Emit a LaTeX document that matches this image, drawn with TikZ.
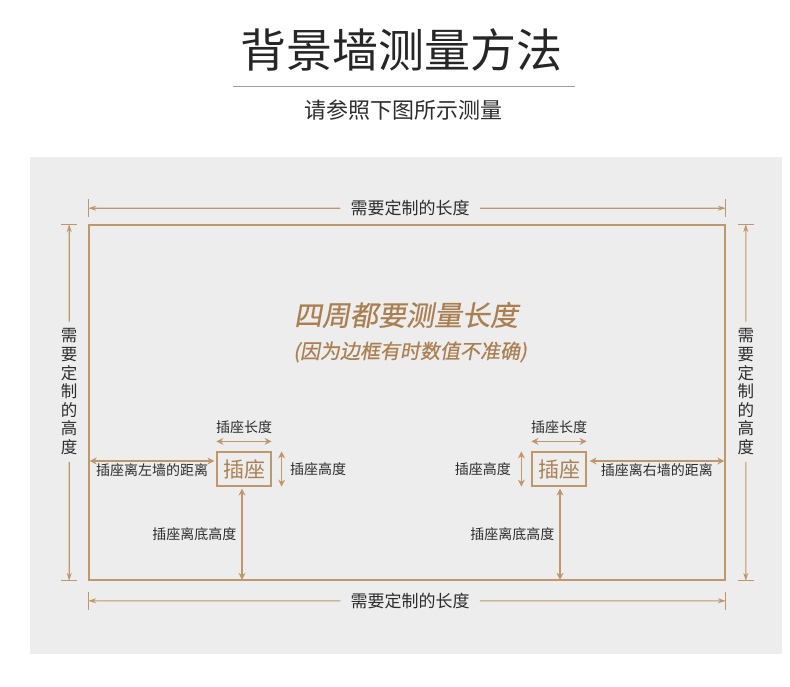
\documentclass[tikz,border=0pt]{standalone}
\usepackage{fontspec}
\setmainfont{Noto Sans CJK SC}
\newfontfamily\slantcjk[FakeSlant=0.18, FakeBold=0.5]{Noto Sans CJK SC}
\usetikzlibrary{positioning, arrows.meta, calc}
\definecolor{wallline}{RGB}{190,152,108}
\definecolor{goldtxt}{RGB}{170,128,82}
\definecolor{panelbg}{RGB}{237,237,237}
\definecolor{labeltxt}{RGB}{45,45,45}

\begin{document}
\begin{tikzpicture}[x=1pt, y=-1pt,
    every node/.style={text=labeltxt, inner sep=2pt},
    lbl/.style={font=\fontsize{14}{16}\selectfont},
    dimtxt/.style={font=\fontsize{17}{19}\selectfont, inner xsep=10pt},
    vdimtxt/.style={font=\fontsize{16.5}{18.6}\selectfont, align=center, inner xsep=2pt, inner ysep=7pt},
    socket/.style={rectangle, draw=wallline, line width=1.2pt, minimum width=54pt, minimum height=34pt, text=goldtxt, font=\fontsize{21}{23}\selectfont},
    wall/.style={rectangle, draw=wallline, line width=1.6pt, minimum width=636pt, minimum height=355pt},
    dim/.style={draw=wallline, line width=1.1pt, -{Stealth[length=8pt,width=5pt]}},
    bidim/.style={draw=wallline, line width=1.2pt, {Stealth[length=7pt,width=7pt]}-{Stealth[length=7pt,width=7pt]}},
    tick/.style={draw=wallline, line width=1.1pt}]

  % page and grey panel
  \useasboundingbox[fill=white] (0,0) rectangle (790,686);
  \fill[panelbg] (30,157) rectangle (782,654);

  % heading
  \node[font=\fontsize{46}{50}\selectfont, text=black!85] (title) at (401,50) {背景墙测量方法};
  \draw[gray!75, line width=0.8pt] (233,86) -- (575,86);
  \node[font=\fontsize{22}{24}\selectfont] (subtitle) at (403,110) {请参照下图所示测量};

  % the wall
  \node[wall] (wall) at (407,402.5) {};

  \node[font=\slantcjk\fontsize{28}{30}\selectfont, text=goldtxt] (note) at (406,315) {四周都要测量长度};
  \node[font=\slantcjk\fontsize{20}{22}\selectfont, text=goldtxt] (notesub) at (410,352) {(因为边框有时数值不准确)};

  % overall length, top and bottom
  \coordinate (topL) at ([yshift=16pt]wall.north west);
  \coordinate (topR) at ([yshift=16pt]wall.north east);
  \coordinate (botL) at ([yshift=-20pt]wall.south west);
  \coordinate (botR) at ([yshift=-20pt]wall.south east);
  \foreach \c in {topL, topR, botL, botR}
    \draw[tick] ([yshift=9pt]\c) -- ([yshift=-9pt]\c);
  \node[dimtxt] (toplen) at ($(topL)!0.505!(topR)$) {需要定制的长度};
  \node[dimtxt] (botlen) at ($(botL)!0.505!(botR)$) {需要定制的长度};
  \draw[dim] (toplen) -- (topL);
  \draw[dim] (toplen) -- (topR);
  \draw[dim] (botlen) -- (botL);
  \draw[dim] (botlen) -- (botR);

  % overall height, left and right
  \coordinate (lftT) at ([xshift=-19pt]wall.north west);
  \coordinate (lftB) at ([xshift=-19pt]wall.south west);
  \coordinate (rgtT) at ([xshift=20pt]wall.north east);
  \coordinate (rgtB) at ([xshift=20pt]wall.south east);
  \foreach \c in {lftT, lftB, rgtT, rgtB}
    \draw[tick] ([xshift=-8pt]\c) -- ([xshift=8pt]\c);
  \node[vdimtxt] (lfthgt) at ($(lftT)!0.47!(lftB)$) {需\\要\\定\\制\\的\\高\\度};
  \node[vdimtxt] (rgthgt) at ($(rgtT)!0.47!(rgtB)$) {需\\要\\定\\制\\的\\高\\度};
  \draw[dim] (lfthgt) -- (lftT);
  \draw[dim] (lfthgt) -- (lftB);
  \draw[dim] (rgthgt) -- (rgtT);
  \draw[dim] (rgthgt) -- (rgtB);

  % sockets
  \node[socket] (sockL) at (244,469) {插座};
  \node[socket] (sockR) at (559,469) {插座};

  \draw[bidim] ([yshift=10pt]sockL.north west) -- node[lbl, above=5pt]{插座长度} ([yshift=10pt]sockL.north east);
  \draw[bidim] ([xshift=10pt]sockL.north east) -- node[lbl, right=6pt]{插座高度} ([xshift=10pt]sockL.south east);
  \draw[bidim] ($(sockL.west)+(-2,-8)$) -- node[lbl, below]{插座离左墙的距离} ($(sockL.west -| wall.west)+(1.5,-8)$);
  \draw[bidim] ($(sockL.south)+(-2,2)$) -- node[lbl, left=3pt]{插座离底高度} ($(sockL.south |- wall.south)+(-2,-1)$);

  \draw[bidim] ([yshift=10pt]sockR.north west) -- node[lbl, above=5pt]{插座长度} ([yshift=10pt]sockR.north east);
  \draw[bidim] ([xshift=-10pt]sockR.north west) -- node[lbl, left=8pt]{插座高度} ([xshift=-10pt]sockR.south west);
  \draw[bidim] ($(sockR.east)+(3,-8)$) -- node[lbl, below]{插座离右墙的距离} ($(sockR.east -| wall.east)+(-1.5,-8)$);
  \draw[bidim] ($(sockR.south)+(1,2)$) -- node[lbl, left=3pt]{插座离底高度} ($(sockR.south |- wall.south)+(1,-1)$);
\end{tikzpicture}
\end{document}
